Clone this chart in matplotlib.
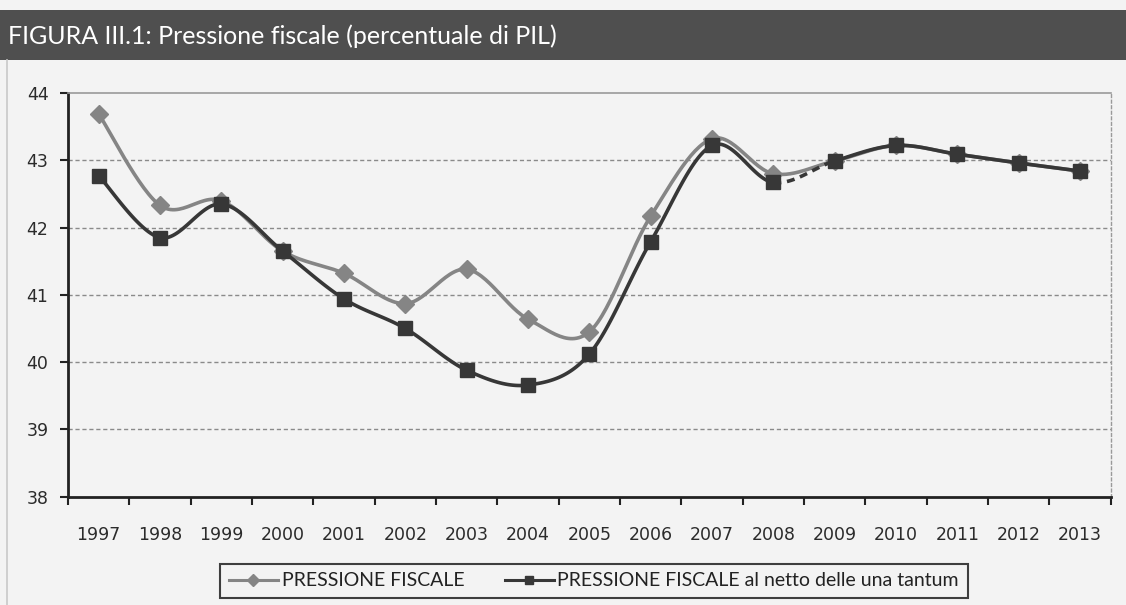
import numpy as np
import matplotlib
matplotlib.use("Agg")
import matplotlib.pyplot as plt
from matplotlib.lines import Line2D
from matplotlib.patches import Rectangle

# Fiscal pressure, % of GDP
years = ["1997", "1998", "1999", "2000", "2001", "2002", "2003", "2004", "2005",
         "2006", "2007", "2008", "2009", "2010", "2011", "2012", "2013"]
pressione = [43.69, 42.33, 42.40, 41.65, 41.32, 40.87, 41.38, 40.64, 40.45,
             42.17, 43.32, 42.80, 42.99, 43.22, 43.09, 42.96, 42.84]
pressione_netto = [42.77, 41.85, 42.35, 41.65, 40.94, 40.50, 39.88, 39.66, 40.12,
                   41.79, 43.22, 42.67, 42.99, 43.22, 43.09, 42.96, 42.84]
yticks = [38, 39, 40, 41, 42, 43, 44]

label_a = "PRESSIONE FISCALE"
label_b = "PRESSIONE FISCALE al netto delle una tantum"
title = "FIGURA III.1: Pressione fiscale (percentuale di PIL)"

COL_A = "#858585"
COL_B = "#373737"
BG = "#f3f3f3"


def smooth_segments(x, y, n=30):
    """Catmull-Rom style Bezier segments through (x, y), one array per segment."""
    x = np.asarray(x, float)
    y = np.asarray(y, float)
    P = np.column_stack([x, y])
    segs = []
    t = np.linspace(0, 1, n)[:, None]
    for i in range(len(P) - 1):
        p0 = P[i - 1] if i > 0 else P[i]
        p1, p2 = P[i], P[i + 1]
        p3 = P[i + 2] if i + 2 < len(P) else P[i + 1]
        c1 = p1 + (p2 - p0) / 6.0
        c2 = p2 - (p3 - p1) / 6.0
        pts = ((1 - t) ** 3) * p1 + 3 * ((1 - t) ** 2) * t * c1 + 3 * (1 - t) * t ** 2 * c2 + t ** 3 * p2
        segs.append(pts)
    return segs


fig = plt.figure(figsize=(11.26, 6.05), dpi=100, facecolor=BG)

# title band
fig.patches.append(Rectangle((0, 1 - 60 / 605), 1, 50 / 605, transform=fig.transFigure,
                             facecolor="#4f4f4f", edgecolor="none", zorder=0))
fig.text(8 / 1126, 1 - 36 / 605, title, color="white", fontsize=18,
         family="Lato", va="center", ha="left")
# thin frame line on the left
fig.add_artist(Line2D([7 / 1126, 7 / 1126], [0, 1 - 60 / 605], transform=fig.transFigure,
                      color="#c8c8c8", lw=1.2))

ax = fig.add_axes([68 / 1126, 1 - 496.7 / 605, (1110.7 - 68) / 1126, (496.7 - 93) / 605])
ax.set_facecolor(BG)

x = np.arange(len(years))

# series A: solid smooth line
segs_a = smooth_segments(x, pressione)
curve_a = np.vstack(segs_a)
ax.plot(curve_a[:, 0], curve_a[:, 1], color=COL_A, lw=2.6, solid_capstyle="round", zorder=3)
ax.plot(x, pressione, linestyle="none", marker="D", markersize=9.5, color=COL_A, zorder=4)

# series B: smooth line, 2008-2009 segment dashed
segs_b = smooth_segments(x, pressione_netto)
dashed_idx = years.index("2008")
for i, s in enumerate(segs_b):
    ls = (0, (2.2, 1.6)) if i == dashed_idx else "-"
    ax.plot(s[:, 0], s[:, 1], color=COL_B, lw=2.6, linestyle=ls,
            solid_capstyle="round", zorder=5)
ax.plot(x, pressione_netto, linestyle="none", marker="s", markersize=10, color=COL_B, zorder=6)

ax.set_xlim(-0.5, len(years) - 0.5)
ax.set_ylim(38, 44)
ax.set_yticks(yticks)
ax.set_yticklabels([str(v) for v in yticks])
ax.set_xticks(x)
ax.set_xticklabels(years)
ax.set_xticks(np.arange(-0.5, len(years)), minor=True)

ax.tick_params(axis="x", which="major", length=0, pad=21, labelsize=12.5, labelcolor="#2b2b2b")
ax.tick_params(axis="x", which="minor", length=6, width=1.5, direction="out", color="#222222")
ax.tick_params(axis="y", length=6, width=1.5, direction="out", color="#222222",
               pad=8, labelsize=12.5, labelcolor="#2b2b2b")
for lab in ax.get_xticklabels() + ax.get_yticklabels():
    lab.set_fontfamily("DejaVu Sans")

for yv in yticks[1:-1]:
    ax.axhline(yv, color="#8a8a8a", lw=1.0, linestyle=(0, (3, 2)), zorder=1)

ax.spines["left"].set_color("#222222")
ax.spines["left"].set_linewidth(2.0)
ax.spines["bottom"].set_color("#222222")
ax.spines["bottom"].set_linewidth(2.0)
ax.spines["top"].set_color("#9a9a9a")
ax.spines["top"].set_linewidth(1.2)
ax.spines["right"].set_color("#9a9a9a")
ax.spines["right"].set_linewidth(1.0)
ax.spines["right"].set_linestyle((0, (2, 2)))

handles = [
    Line2D([], [], color=COL_A, lw=2.2, marker="D", markersize=6),
    Line2D([], [], color=COL_B, lw=2.2, marker="s", markersize=6),
]
leg = fig.legend(handles, [label_a, label_b], loc="center",
                 bbox_to_anchor=(594 / 1126, 1 - 581 / 605), ncol=2,
                 frameon=True, fancybox=False, edgecolor="#111111", facecolor=BG,
                 prop={"family": "Lato", "size": 14}, handlelength=2.5,
                 handletextpad=0.2, columnspacing=2.1, borderpad=0.45)
leg.get_frame().set_linewidth(1.5)
for t in leg.get_texts():
    t.set_color("#222222")

fig.savefig("out.png", dpi=100, facecolor=BG)
